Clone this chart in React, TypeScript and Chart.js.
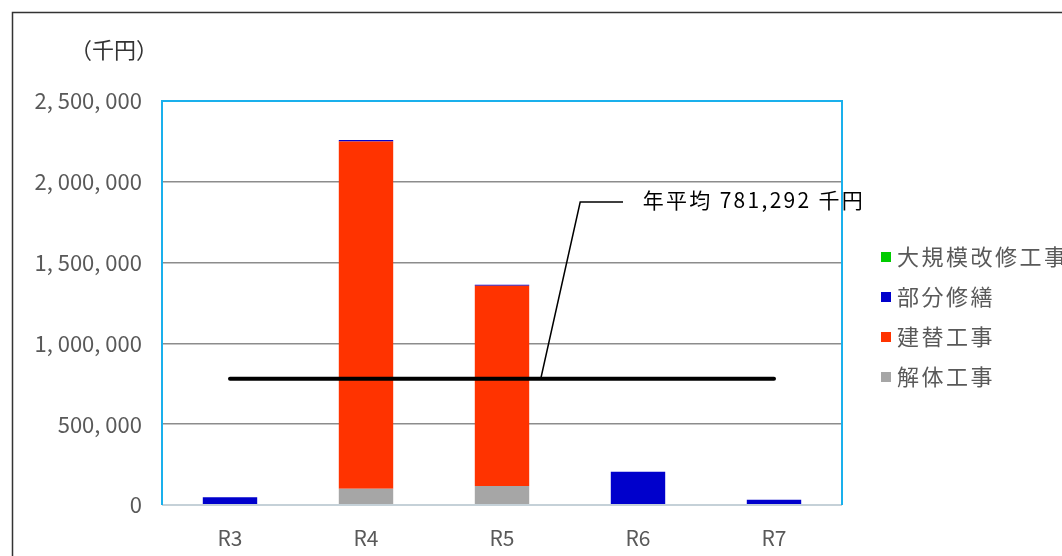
import { useEffect, useRef } from "react";
import { Chart, registerables } from "chart.js";

Chart.register(...registerables);

// ---- data ----
const categories = ["R3", "R4", "R5", "R6", "R7"];
const demolitionWork = [0, 100000, 118000, 0, 0]; // 解体工事
const rebuildWork = [0, 2150000, 1238000, 0, 0]; // 建替工事
const partialRepair = [48000, 8000, 7000, 205000, 32000]; // 部分修繕
const majorRenovation = [0, 0, 0, 0, 0]; // 大規模改修工事
const averageLine = [781292, 781292, 781292, 781292, 781292];
const yMax = 2500000;
const yStep = 500000;
const unitLabel = "（千円）";
const averageLabel = "年平均 781,292 千円";
const calloutValue = 1875000;

const FONT = '"Noto Sans CJK JP", "Noto Sans", sans-serif';

const decorPlugin = {
  id: "decor",
  afterDraw(chart: any) {
    const ctx = chart.ctx as CanvasRenderingContext2D;
    const area = chart.chartArea;
    const xs = chart.scales.x;
    const ys = chart.scales.y;
    ctx.save();

    // plot frame
    ctx.lineWidth = 2;
    ctx.strokeStyle = "#C5D1D8";
    ctx.beginPath();
    ctx.moveTo(area.left, area.bottom);
    ctx.lineTo(area.right, area.bottom);
    ctx.stroke();
    ctx.strokeStyle = "#1AB0EC";
    ctx.beginPath();
    ctx.moveTo(area.left, area.bottom);
    ctx.lineTo(area.left, area.top);
    ctx.lineTo(area.right, area.top);
    ctx.lineTo(area.right, area.bottom);
    ctx.stroke();

    // callout leader
    const footX = xs.getPixelForDecimal(0.557);
    const footY = ys.getPixelForValue(averageLine[0]);
    const elbowX = xs.getPixelForDecimal(0.615);
    const elbowY = ys.getPixelForValue(calloutValue);
    const endX = xs.getPixelForDecimal(0.678);
    const textX = xs.getPixelForDecimal(0.707);
    ctx.strokeStyle = "#000";
    ctx.lineWidth = 1.5;
    ctx.beginPath();
    ctx.moveTo(footX, footY);
    ctx.lineTo(elbowX, elbowY);
    ctx.lineTo(endX, elbowY);
    ctx.stroke();

    ctx.fillStyle = "#000";
    ctx.font = `21px ${FONT}`;
    ctx.textBaseline = "middle";
    ctx.textAlign = "left";
    (ctx as any).letterSpacing = "2.3px";
    ctx.fillText(averageLabel, textX, elbowY - 2);

    // unit label
    (ctx as any).letterSpacing = "0px";
    ctx.fillStyle = "#333";
    ctx.font = `22px ${FONT}`;
    ctx.fillText(unitLabel, 70, 50);

    // legend
    const items = chart.data.datasets.filter((d: any) => d.type !== "line").slice().reverse();
    (ctx as any).letterSpacing = "2.5px";
    ctx.font = `22px ${FONT}`;
    items.forEach((d: any, i: number) => {
      const cy = 257 + i * 40;
      ctx.fillStyle = d.backgroundColor;
      ctx.fillRect(881, cy - 5, 10, 10);
      ctx.fillStyle = "#595959";
      ctx.fillText(d.label, 897, cy);
    });

    // outer border
    (ctx as any).letterSpacing = "0px";
    ctx.strokeStyle = "#333";
    ctx.lineWidth = 1.5;
    ctx.beginPath();
    ctx.moveTo(12.5, 556);
    ctx.lineTo(12.5, 12.5);
    ctx.lineTo(1062, 12.5);
    ctx.stroke();

    ctx.restore();
  },
};

export default function App() {
  const ref = useRef<HTMLCanvasElement>(null);
  useEffect(() => {
    if (!ref.current) return;
    const chart = new Chart(ref.current, {
      type: "bar",
      data: {
        labels: categories,
        datasets: [
          { type: "bar", label: "解体工事", data: demolitionWork, backgroundColor: "#A6A6A6", stack: "s" },
          { type: "bar", label: "建替工事", data: rebuildWork, backgroundColor: "#FF3300", stack: "s" },
          { type: "bar", label: "部分修繕", data: partialRepair, backgroundColor: "#0000CC", stack: "s" },
          { type: "bar", label: "大規模改修工事", data: majorRenovation, backgroundColor: "#00CC00", stack: "s" },
          {
            type: "line",
            label: "年平均",
            data: averageLine,
            borderColor: "#000",
            borderWidth: 4,
            borderCapStyle: "round",
            pointRadius: 0,
            stack: "avg",
            order: -1,
          } as any,
        ],
      },
      options: {
        animation: false,
        responsive: false,
        layout: { padding: { left: 0, right: 220, top: 101, bottom: 0 } },
        datasets: { bar: { barPercentage: 0.4, categoryPercentage: 1 } },
        plugins: { legend: { display: false }, tooltip: { enabled: false } },
        scales: {
          x: {
            stacked: true,
            grid: { display: false },
            border: { display: false },
            ticks: { color: "#595959", font: { family: FONT, size: 21 }, padding: 12 },
            afterFit: (s: any) => { s.height = 51; },
          },
          y: {
            stacked: true,
            min: 0,
            max: yMax,
            grid: { color: "#8C8C8C", lineWidth: 1.5, drawTicks: false },
            border: { display: false },
            ticks: {
              stepSize: yStep,
              padding: 20,
              color: "#595959",
              font: { family: FONT, size: 22 },
              callback: (v: any) => Number(v).toLocaleString("en-US").replace(/,/g, ", "),
            },
            afterFit: (s: any) => { s.width = 162; },
          },
        },
      },
      plugins: [decorPlugin],
    });
    return () => chart.destroy();
  }, []);
  return (
    <div style={{ position: "absolute", left: 0, top: 0, width: 1062, height: 556, background: "#fff", overflow: "hidden" }}>
      <canvas ref={ref} width={1062} height={556} style={{ width: 1062, height: 556 }} />
    </div>
  );
}
